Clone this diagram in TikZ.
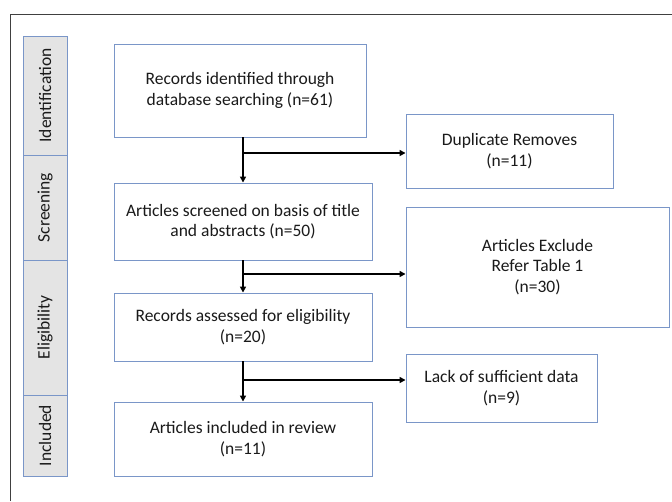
\documentclass[tikz,border=0pt]{standalone}
\usepackage{fontspec}
\setmainfont{Carlito}
\usetikzlibrary{arrows.meta}
\definecolor{boxblue}{HTML}{7A96C8}
\definecolor{sidegray}{HTML}{E4E4E4}
\definecolor{txt}{HTML}{1A1A1A}
\tikzset{
  mainbox/.style={draw=boxblue, line width=0.9pt, fill=white, align=center, text=txt, font=\fontsize{17.5}{20.5}\selectfont, inner sep=0pt},
  sidebox/.style={draw=boxblue, line width=0.9pt, fill=sidegray, inner sep=0pt},
  sidetext/.style={rotate=90, text=txt, font=\fontsize{17.5}{20}\selectfont},
  arr/.style={line width=1.6pt, -{Triangle[length=6pt,width=6pt]}},
  frameline/.style={draw=black!75, line width=1pt}
}
\begin{document}
\begin{tikzpicture}[x=1pt,y=-1pt]
\useasboundingbox (0,0) rectangle (672,501);
\fill[white] (0,0) rectangle (672,501);
\draw[frameline] (10,501) -- (10,14) -- (672,14);
% side labels
\node[sidebox, minimum width=44pt, minimum height=119pt] (s1) at (45,95.5) {};
\node[sidetext] at (s1.center) {Identification};
\node[sidebox, minimum width=44pt, minimum height=105pt] (s2) at (45,207.5) {};
\node[sidetext] at (s2.center) {Screening};
\node[sidebox, minimum width=44pt, minimum height=135pt] (s3) at (45,327.5) {};
\node[sidetext] at (s3.center) {Eligibility};
\node[sidebox, minimum width=44pt, minimum height=81pt] (s4) at (45,435.5) {};
\node[sidetext] at (s4.center) {Included};
% main boxes
\node[mainbox, minimum width=252pt, minimum height=93pt] (b1) at (240,90.5) {Records identified through\\database searching (n=61)};
\node[mainbox, minimum width=258pt, minimum height=77pt] (b2) at (243,221.5) {Articles screened on basis of title\\and abstracts (n=50)};
\node[mainbox, minimum width=258pt, minimum height=68pt] (b3) at (243,327) {Records assessed for eligibility\\(n=20)};
\node[mainbox, minimum width=258pt, minimum height=74pt] (b4) at (243,439) {Articles included in review\\(n=11)};
% right boxes
\node[mainbox, minimum width=207pt, minimum height=74pt] (r1) at (509.5,151) {Duplicate Removes\\(n=11)};
\node[mainbox, minimum width=263pt, minimum height=120pt] (r2) at (537.5,267) {Articles Exclude\\Refer Table 1\\(n=30)};
\node[mainbox, minimum width=191pt, minimum height=68pt] (r3) at (501.5,388) {Lack of sufficient data\\(n=9)};
% branch points
\coordinate (c1) at (243,153);
\coordinate (c2) at (243,274);
\coordinate (c3) at (243,380);
% connectors
\draw[arr] (b2.north |- b1.south) -- (b2.north);
\draw[arr] (b3.north |- b2.south) -- (b3.north);
\draw[arr] (b4.north |- b3.south) -- (b4.north);
\draw[arr] (c1) -- (r1.west |- c1);
\draw[arr] (c2) -- (r2.west |- c2);
\draw[arr] (c3) -- (r3.west |- c3);
\end{tikzpicture}
\end{document}
